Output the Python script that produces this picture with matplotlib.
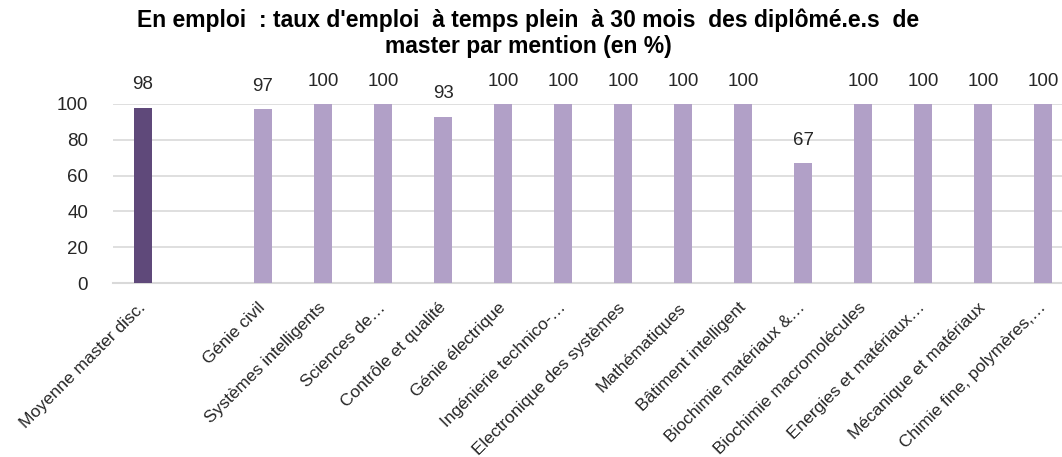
import matplotlib
matplotlib.use("Agg")
import matplotlib.pyplot as plt
import numpy as np

plt.rcParams['font.family'] = ['Liberation Sans', 'DejaVu Sans']

categories = ["Moyenne master disc.", "", "Génie civil", "Systèmes intelligents",
              "Sciences de…", "Contrôle et qualité", "Génie électrique",
              "Ingénierie technico-…", "Electronique des systèmes", "Mathématiques",
              "Bâtiment intelligent", "Biochimie matériaux &…", "Biochimie macromolécules",
              "Energies et matériaux…", "Mécanique et matériaux", "Chimie fine, polymères,…"]
values = [98, None, 97, 100, 100, 93, 100, 100, 100, 100, 100, 67, 100, 100, 100, 100]
yticks = [0, 20, 40, 60, 80, 100]
title = "En emploi  : taux d'emploi  à temps plein  à 30 mois  des diplômé.e.s  de\nmaster par mention (en %)"

dark = "#5f497a"
light = "#b1a0c7"
text_col = "#262626"

fig = plt.figure(figsize=(10.62, 4.57), dpi=100)
ax = fig.add_axes([113/1062, 1-283/457, 1-113/1062, (283-104)/457])

x = np.arange(len(categories))
for i, v in enumerate(values):
    if v is None:
        continue
    ax.bar(x[i], v, width=0.31, color=dark if i == 0 else light, zorder=3)
    ax.text(x[i], v + 8, f"{v}", ha="center", va="bottom", fontsize=13.5,
            color=text_col, clip_on=False)

ax.set_xlim(-0.5, (1062-143)/60)
ax.set_ylim(0, 100)
ax.set_yticks(yticks)
ax.set_yticklabels([str(t) for t in yticks], fontsize=13.5, color=text_col)
ax.set_xticks(x)
ax.set_xticklabels(categories, rotation=45, ha="right", va="center",
                   rotation_mode="anchor", fontsize=12.5, color=text_col)
ax.tick_params(axis="both", length=0)
ax.tick_params(axis="y", pad=18)
ax.tick_params(axis="x", pad=16)
ax.grid(axis="y", color="#d9d9d9", linewidth=1.2, zorder=0)
for s in ["top", "right", "left"]:
    ax.spines[s].set_visible(False)
ax.spines["bottom"].set_color("#d9d9d9")
ax.spines["bottom"].set_linewidth(1.5)

fig.text(528/1062, 1-9/457, title, ha="center", va="top", fontsize=16.5,
         fontweight="bold", color="black", linespacing=1.15)

fig.savefig("out.png", dpi=100)
